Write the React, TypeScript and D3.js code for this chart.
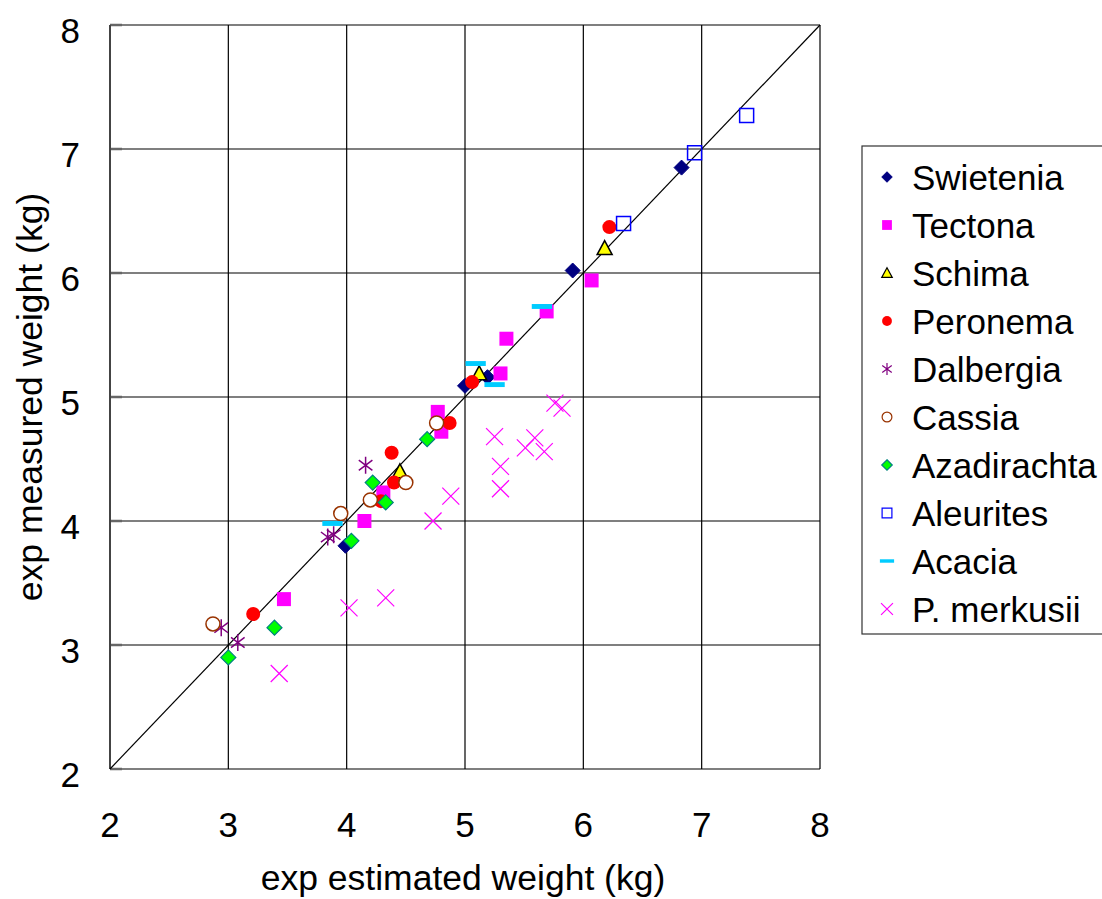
import React, { useEffect, useRef } from 'react';
import { scaleLinear, select, range } from 'd3';

// points: [estimated, measured]
const swietenia = [[3.99, 3.80], [5.00, 5.09], [5.19, 5.16], [5.91, 6.02], [6.83, 6.85]];
const tectona = [[3.47, 3.37], [4.15, 4.00], [4.31, 4.23], [4.77, 4.88], [4.80, 4.72], [5.35, 5.47], [5.30, 5.19], [5.69, 5.69], [6.07, 5.94]];
const schima = [[4.45, 4.40], [5.12, 5.19], [6.18, 6.20]];
const peronema = [[3.21, 3.25], [4.38, 4.55], [4.40, 4.31], [4.29, 4.16], [4.87, 4.79], [5.06, 5.12], [6.22, 6.37]];
const dalbergia = [[2.94, 3.14], [3.08, 3.02], [3.84, 3.87], [3.89, 3.89], [4.16, 4.45]];
const cassia = [[2.87, 3.17], [3.95, 4.06], [4.20, 4.17], [4.50, 4.31], [4.76, 4.79]];
const azadirachta = [[3.00, 2.90], [3.39, 3.14], [4.04, 3.84], [4.22, 4.31], [4.33, 4.15], [4.68, 4.66]];
const aleurites = [[6.34, 6.40], [6.94, 6.97], [7.38, 7.27]];
const acacia = [[3.88, 3.98], [5.09, 5.27], [5.25, 5.10], [5.65, 5.73]];
const merkusii = [[3.43, 2.77], [4.02, 3.30], [4.33, 3.38], [4.73, 4.00], [4.88, 4.20], [5.25, 4.68], [5.30, 4.44], [5.30, 4.26], [5.51, 4.59], [5.59, 4.67], [5.67, 4.56], [5.76, 4.95], [5.82, 4.91]];

const species = ['Swietenia', 'Tectona', 'Schima', 'Peronema', 'Dalbergia', 'Cassia', 'Azadirachta', 'Aleurites', 'Acacia', 'P. merkusii'];
const seriesData = [swietenia, tectona, schima, peronema, dalbergia, cassia, azadirachta, aleurites, acacia, merkusii];
const ticks = [2, 3, 4, 5, 6, 7, 8];

const styles = [
  { shape: 'diamond', fill: '#000080', stroke: '#000080', sw: 1 },
  { shape: 'square', fill: '#ff00ff', stroke: 'none', sw: 0 },
  { shape: 'triangle', fill: '#ffff00', stroke: '#000000', sw: 1.5 },
  { shape: 'circle', fill: '#ff0000', stroke: 'none', sw: 0 },
  { shape: 'asterisk', fill: 'none', stroke: '#800080', sw: 1.5 },
  { shape: 'circle', fill: '#ffffff', stroke: '#993300', sw: 1.5 },
  { shape: 'diamond', fill: '#00ff00', stroke: '#008080', sw: 1.2 },
  { shape: 'square', fill: 'none', stroke: '#0000ff', sw: 1.5 },
  { shape: 'dash', fill: '#00ccff', stroke: 'none', sw: 0 },
  { shape: 'cross', fill: 'none', stroke: '#ff00ff', sw: 1.2 },
];

function markerPath(shape: string, r: number) {
  switch (shape) {
    case 'diamond':
      return `M0,${-r}L${r},0L0,${r}L${-r},0Z`;
    case 'square':
      return `M${-r},${-r}H${r}V${r}H${-r}Z`;
    case 'triangle':
      return `M0,${-r}L${r},${r * 0.85}H${-r}Z`;
    case 'circle':
      return `M${r},0A${r},${r} 0 1,1 ${-r},0A${r},${r} 0 1,1 ${r},0Z`;
    case 'asterisk':
      return `M0,${-r}V${r}M${-r * 0.8},${-r * 0.6}L${r * 0.8},${r * 0.6}M${-r * 0.8},${r * 0.6}L${r * 0.8},${-r * 0.6}`;
    case 'dash':
      return `M${-r * 1.45},${-r * 0.35}H${r * 1.45}V${r * 0.35}H${-r * 1.45}Z`;
    case 'cross':
      return `M${-r},${-r}L${r},${r}M${-r},${r}L${r},${-r}`;
  }
  return '';
}

const markerSize = [7.5, 7, 7.5, 7, 8.5, 7, 7.5, 7, 7, 8.5];

function Chart() {
  const svgRef = useRef(null);
  const width = 1102, height = 899;
  const plot = { left: 110, right: 820, top: 25, bottom: 769 };
  const font = '"Liberation Sans", Arial, sans-serif';

  useEffect(() => {
    document.body.style.margin = '0';
    const svg = select(svgRef.current);
    svg.selectAll('*').remove();

    const xScale = scaleLinear().domain([2, 8]).range([plot.left, plot.right]);
    const yScale = scaleLinear().domain([2, 8]).range([plot.bottom, plot.top]);

    // grid
    const grid = svg.append('g').attr('stroke', '#000').attr('stroke-width', 1.2);
    grid.selectAll('.vx').data(ticks).join('line')
      .attr('x1', d => xScale(d)).attr('x2', d => xScale(d))
      .attr('y1', plot.top).attr('y2', plot.bottom);
    grid.selectAll('.hy').data(ticks).join('line')
      .attr('x1', plot.left).attr('x2', plot.right)
      .attr('y1', d => yScale(d)).attr('y2', d => yScale(d));

    // inner tick marks on the left axis
    svg.append('g').attr('stroke', '#666').attr('stroke-width', 2.5)
      .selectAll('line').data(ticks).join('line')
      .attr('x1', plot.left).attr('x2', plot.left + 12)
      .attr('y1', d => yScale(d)).attr('y2', d => yScale(d));

    svg.append('line')
      .attr('x1', plot.left).attr('x2', plot.left)
      .attr('y1', plot.top).attr('y2', plot.bottom)
      .attr('stroke', '#444').attr('stroke-width', 2);

    // 1:1 line
    svg.append('line')
      .attr('x1', xScale(2)).attr('y1', yScale(2))
      .attr('x2', xScale(8)).attr('y2', yScale(8))
      .attr('stroke', '#000').attr('stroke-width', 1.2);

    // tick labels
    svg.append('g').selectAll('text').data(ticks).join('text')
      .attr('x', 80).attr('y', d => yScale(d)).attr('dy', '0.5em')
      .attr('text-anchor', 'end').attr('font-family', font).attr('font-size', 35)
      .text(d => d);
    svg.append('g').selectAll('text').data(ticks).join('text')
      .attr('x', d => xScale(d)).attr('y', 837)
      .attr('text-anchor', 'middle').attr('font-family', font).attr('font-size', 35)
      .text(d => d);

    // axis titles
    svg.append('text')
      .attr('x', (plot.left + plot.right) / 2 - 2).attr('y', 890)
      .attr('text-anchor', 'middle').attr('font-family', font).attr('font-size', 35.5)
      .text('exp estimated weight (kg)');
    svg.append('text')
      .attr('transform', `translate(42, ${(plot.top + plot.bottom) / 2}) rotate(-90)`)
      .attr('text-anchor', 'middle').attr('font-family', font).attr('font-size', 35.5)
      .text('exp measured weight (kg)');

    // points
    seriesData.forEach((pts, i) => {
      const st = styles[i];
      svg.append('g').selectAll('path').data(pts).join('path')
        .attr('transform', d => `translate(${xScale(d[0])}, ${yScale(d[1])})`)
        .attr('d', markerPath(st.shape, markerSize[i]))
        .attr('fill', st.fill).attr('stroke', st.stroke).attr('stroke-width', st.sw);
    });

    // legend
    const legend = svg.append('g');
    legend.append('rect')
      .attr('x', 862).attr('y', 146).attr('width', 260).attr('height', 488)
      .attr('fill', '#fff').attr('stroke', '#333').attr('stroke-width', 1.2);
    const rows = legend.selectAll('g.row').data(range(species.length)).join('g')
      .attr('transform', i => `translate(887, ${177 + i * 48})`);
    rows.append('path')
      .attr('d', i => markerPath(styles[i].shape, markerSize[i] * 0.7))
      .attr('fill', i => styles[i].fill).attr('stroke', i => styles[i].stroke)
      .attr('stroke-width', i => Math.min(styles[i].sw, 1.2));
    rows.append('text')
      .attr('x', 25).attr('dy', '0.36em')
      .attr('font-family', font).attr('font-size', 35)
      .text(i => species[i]);
  }, []);

  return (
    <svg ref={svgRef} width={width} height={height} style={{ display: 'block', background: '#fff' }}></svg>
  );
}

export default function App() {
  return <Chart />;
}
